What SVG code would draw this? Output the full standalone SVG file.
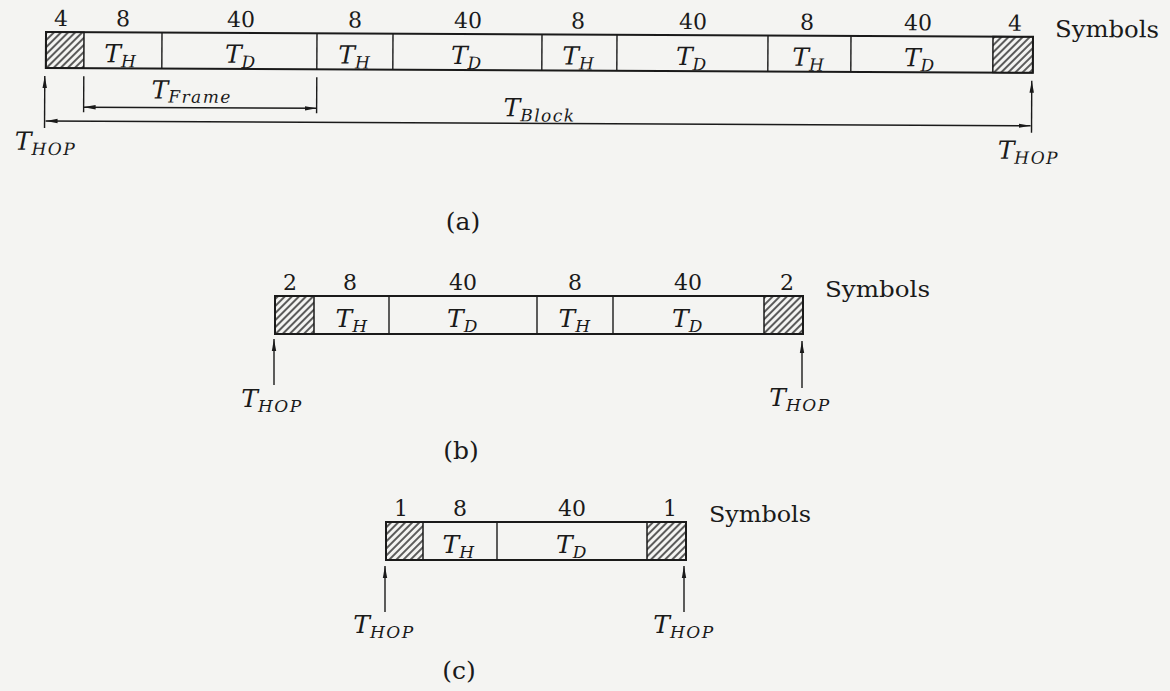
<svg xmlns="http://www.w3.org/2000/svg" width="1170" height="691" viewBox="0 0 1170 691">
<style>
.box{fill:none;stroke:#1a1a1a;stroke-width:2}
.div{stroke:#1a1a1a;stroke-width:1.4}
.hatch{fill:url(#hatch);stroke:#1a1a1a;stroke-width:1.5}
.arr{stroke:#1a1a1a;stroke-width:1.4;fill:none}
.num{font-family:"DejaVu Serif","Liberation Serif",serif;font-size:22px;fill:#1a1a1a;text-anchor:middle}
.sym{font-family:"DejaVu Serif","Liberation Serif",serif;font-size:23px;fill:#1a1a1a}
.t{font-family:"DejaVu Serif","Liberation Serif",serif;font-style:italic;font-size:25px;fill:#1a1a1a;text-anchor:middle}
.sub{font-size:17px;letter-spacing:1.5px}
.cap{font-family:"DejaVu Serif","Liberation Serif",serif;font-size:25px;fill:#1a1a1a;text-anchor:middle}
</style>
<defs>
<pattern id="hatch" patternUnits="userSpaceOnUse" width="5" height="10" patternTransform="rotate(45)">
<rect width="5" height="10" fill="#f4f4f2"/>
<line x1="1" y1="0" x2="1" y2="10" stroke="#1a1a1a" stroke-width="1.4"/>
</pattern>
<marker id="ah" viewBox="0 0 12 6" refX="12" refY="3" markerWidth="12" markerHeight="6" markerUnits="userSpaceOnUse" orient="auto-start-reverse">
<path d="M0,0.8 L12,3 L0,5.2 Z" fill="#1a1a1a"/>
</marker>
</defs>
<rect width="1170" height="691" fill="#f4f4f2"/>

<g id="frame-a" transform="rotate(0.28 46 32)">
<rect class="hatch" x="46" y="32" width="38" height="36"/>
<rect class="hatch" x="993" y="32" width="40" height="36"/>
<rect class="box" x="46" y="32" width="987" height="36"/>
<line class="div" x1="162" y1="32" x2="162" y2="68"/>
<line class="div" x1="317" y1="32" x2="317" y2="68"/>
<line class="div" x1="393" y1="32" x2="393" y2="68"/>
<line class="div" x1="542" y1="32" x2="542" y2="68"/>
<line class="div" x1="617" y1="32" x2="617" y2="68"/>
<line class="div" x1="768" y1="32" x2="768" y2="68"/>
<line class="div" x1="851" y1="32" x2="851" y2="68"/>
<text class="num" x="61" y="26">4</text>
<text class="num" x="123" y="26">8</text>
<text class="num" x="241" y="26">40</text>
<text class="num" x="355" y="26">8</text>
<text class="num" x="468" y="26">40</text>
<text class="num" x="578" y="26">8</text>
<text class="num" x="693" y="26">40</text>
<text class="num" x="807" y="26">8</text>
<text class="num" x="918" y="26">40</text>
<text class="num" x="1015" y="26">4</text>
<text class="sym" x="1055" y="32" textLength="104" lengthAdjust="spacingAndGlyphs">Symbols</text>
<text class="t" x="121" y="62">T<tspan class="sub" dy="5">H</tspan></text>
<text class="t" x="241" y="62">T<tspan class="sub" dy="5">D</tspan></text>
<text class="t" x="355" y="62">T<tspan class="sub" dy="5">H</tspan></text>
<text class="t" x="467" y="62">T<tspan class="sub" dy="5">D</tspan></text>
<text class="t" x="579" y="62">T<tspan class="sub" dy="5">H</tspan></text>
<text class="t" x="692" y="62">T<tspan class="sub" dy="5">D</tspan></text>
<text class="t" x="809" y="62">T<tspan class="sub" dy="5">H</tspan></text>
<text class="t" x="920" y="62">T<tspan class="sub" dy="5">D</tspan></text>
</g>

<g id="connectors" transform="rotate(0.28 46 32)">
<line class="div" x1="84" y1="76" x2="84" y2="112"/>
<line class="div" x1="317" y1="76" x2="317" y2="112"/>
<line class="arr" x1="84" y1="107" x2="317" y2="107" marker-start="url(#ah)" marker-end="url(#ah)"/>
<line class="arr" x1="46" y1="121" x2="1031" y2="121" marker-start="url(#ah)" marker-end="url(#ah)"/>
<line class="arr" x1="45" y1="128" x2="45" y2="76" marker-end="url(#ah)"/>
<line class="arr" x1="1032" y1="128" x2="1032" y2="76" marker-end="url(#ah)"/>
</g>
<g id="connectors-bc">
<line class="arr" x1="274" y1="385" x2="274" y2="339" marker-end="url(#ah)"/>
<line class="arr" x1="802" y1="388" x2="802" y2="341" marker-end="url(#ah)"/>
<line class="arr" x1="385" y1="612" x2="385" y2="566" marker-end="url(#ah)"/>
<line class="arr" x1="684" y1="612" x2="684" y2="566" marker-end="url(#ah)"/>
</g>

<g id="labels-a" transform="rotate(0.28 46 32)">
<text class="t" x="192" y="98">T<tspan class="sub" dy="4">Frame</tspan></text>
<text class="t" x="540" y="114">T<tspan class="sub" dy="5">Block</tspan></text>
<text class="t" x="46" y="150">T<tspan class="sub" dy="5">HOP</tspan></text>
<text class="t" x="1029" y="154">T<tspan class="sub" dy="5">HOP</tspan></text>
</g>
<text id="caption-a" class="cap" x="463" y="230">(a)</text>

<g id="frame-b">
<rect class="hatch" x="275" y="296" width="39" height="38"/>
<rect class="hatch" x="764" y="296" width="39" height="38"/>
<rect class="box" x="275" y="296" width="528" height="38"/>
<line class="div" x1="389" y1="296" x2="389" y2="334"/>
<line class="div" x1="537" y1="296" x2="537" y2="334"/>
<line class="div" x1="613" y1="296" x2="613" y2="334"/>
<text class="num" x="290" y="290">2</text>
<text class="num" x="350" y="290">8</text>
<text class="num" x="463" y="290">40</text>
<text class="num" x="575" y="290">8</text>
<text class="num" x="688" y="290">40</text>
<text class="num" x="787" y="290">2</text>
<text class="sym" x="825" y="297" textLength="105" lengthAdjust="spacingAndGlyphs">Symbols</text>
<text class="t" x="352" y="327">T<tspan class="sub" dy="5">H</tspan></text>
<text class="t" x="463" y="327">T<tspan class="sub" dy="5">D</tspan></text>
<text class="t" x="575" y="327">T<tspan class="sub" dy="5">H</tspan></text>
<text class="t" x="688" y="327">T<tspan class="sub" dy="5">D</tspan></text>
<text class="t" x="272" y="407">T<tspan class="sub" dy="5">HOP</tspan></text>
<text class="t" x="800" y="406">T<tspan class="sub" dy="5">HOP</tspan></text>
<text class="cap" x="461" y="459">(b)</text>
</g>

<g id="frame-c">
<rect class="hatch" x="386" y="522" width="37" height="38"/>
<rect class="hatch" x="647" y="522" width="39" height="38"/>
<rect class="box" x="386" y="522" width="300" height="38"/>
<line class="div" x1="497" y1="522" x2="497" y2="560"/>
<text class="num" x="401" y="516">1</text>
<text class="num" x="460" y="516">8</text>
<text class="num" x="572" y="516">40</text>
<text class="num" x="670" y="516">1</text>
<text class="sym" x="709" y="522" textLength="102" lengthAdjust="spacingAndGlyphs">Symbols</text>
<text class="t" x="459" y="553">T<tspan class="sub" dy="5">H</tspan></text>
<text class="t" x="572" y="553">T<tspan class="sub" dy="5">D</tspan></text>
<text class="t" x="384" y="633">T<tspan class="sub" dy="5">HOP</tspan></text>
<text class="t" x="684" y="633">T<tspan class="sub" dy="5">HOP</tspan></text>
<text class="cap" x="459" y="679">(c)</text>
</g>
</svg>
